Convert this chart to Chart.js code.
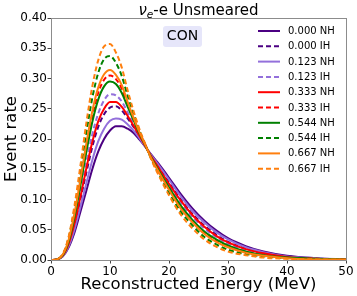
<!DOCTYPE html>
<html>
<head>
<meta charset="utf-8">
<script src="https://cdn.jsdelivr.net/npm/chart.js@4.4.0/dist/chart.umd.min.js"></script>
<style>
  html, body { margin: 0; padding: 0; background: #fff; }
  #wrap { width: 357px; height: 296px; }
</style>
</head>
<body>
<div id="wrap"><canvas id="chart" width="357" height="296"></canvas></div>
<script>
// reconstructed energy grid (MeV)
const energy = [0, 1, 2, 3, 4, 5, 6, 7, 8, 9, 10, 11, 12, 13, 14, 15, 16, 17, 18, 20, 22, 24, 26, 28, 30, 33, 36, 40, 45, 50];

// event rate, one array per curve
const nh000 = [0, 0.001, 0.006, 0.021, 0.046, 0.080, 0.115, 0.150, 0.179, 0.200, 0.214, 0.221, 0.221, 0.217, 0.210, 0.199, 0.187, 0.174, 0.162, 0.136, 0.109, 0.085, 0.065, 0.049, 0.036, 0.023, 0.014, 0.007, 0.003, 0.001];
const ih000 = [0, 0.001, 0.007, 0.026, 0.058, 0.101, 0.145, 0.187, 0.220, 0.241, 0.252, 0.254, 0.247, 0.234, 0.220, 0.204, 0.188, 0.172, 0.157, 0.128, 0.100, 0.076, 0.057, 0.042, 0.030, 0.019, 0.011, 0.006, 0.002, 0.001];
const nh123 = [0, 0.001, 0.006, 0.023, 0.051, 0.088, 0.127, 0.165, 0.196, 0.217, 0.230, 0.234, 0.232, 0.224, 0.214, 0.201, 0.187, 0.173, 0.160, 0.133, 0.105, 0.081, 0.062, 0.046, 0.034, 0.021, 0.013, 0.006, 0.003, 0.001];
const ih123 = [0, 0.001, 0.008, 0.029, 0.065, 0.112, 0.162, 0.208, 0.242, 0.264, 0.274, 0.272, 0.262, 0.244, 0.225, 0.206, 0.189, 0.171, 0.155, 0.124, 0.095, 0.071, 0.052, 0.038, 0.027, 0.017, 0.010, 0.005, 0.002, 0.001];
const nh333 = [0, 0.001, 0.007, 0.027, 0.061, 0.105, 0.152, 0.195, 0.229, 0.250, 0.261, 0.261, 0.253, 0.238, 0.222, 0.205, 0.188, 0.171, 0.156, 0.126, 0.098, 0.074, 0.055, 0.040, 0.029, 0.018, 0.011, 0.005, 0.002, 0.001];
const ih333 = [0, 0.001, 0.009, 0.033, 0.075, 0.129, 0.187, 0.238, 0.276, 0.298, 0.305, 0.299, 0.283, 0.257, 0.233, 0.210, 0.190, 0.169, 0.151, 0.117, 0.087, 0.064, 0.045, 0.032, 0.022, 0.013, 0.008, 0.004, 0.002, 0.001];
const nh544 = [0, 0.001, 0.008, 0.031, 0.072, 0.124, 0.179, 0.228, 0.265, 0.287, 0.295, 0.291, 0.276, 0.253, 0.231, 0.209, 0.189, 0.169, 0.152, 0.120, 0.090, 0.066, 0.047, 0.034, 0.024, 0.014, 0.008, 0.004, 0.002, 0.001];
const ih544 = [0, 0.001, 0.009, 0.037, 0.085, 0.146, 0.211, 0.268, 0.309, 0.332, 0.337, 0.326, 0.304, 0.271, 0.241, 0.214, 0.190, 0.167, 0.147, 0.111, 0.080, 0.057, 0.038, 0.026, 0.017, 0.010, 0.006, 0.003, 0.001, 0.000];
const nh667 = [0, 0.001, 0.009, 0.034, 0.078, 0.134, 0.193, 0.246, 0.285, 0.307, 0.314, 0.306, 0.289, 0.261, 0.235, 0.211, 0.190, 0.168, 0.150, 0.116, 0.085, 0.062, 0.043, 0.030, 0.021, 0.012, 0.007, 0.003, 0.001, 0.001];
const ih667 = [0, 0.001, 0.010, 0.039, 0.091, 0.157, 0.227, 0.287, 0.330, 0.353, 0.357, 0.343, 0.318, 0.280, 0.246, 0.216, 0.191, 0.166, 0.145, 0.107, 0.075, 0.052, 0.034, 0.022, 0.014, 0.008, 0.004, 0.002, 0.001, 0.000];

const seriesNames = ['0.000 NH', '0.000 IH', '0.123 NH', '0.123 IH', '0.333 NH', '0.333 IH', '0.544 NH', '0.544 IH', '0.667 NH', '0.667 IH'];
const seriesValues = [nh000, ih000, nh123, ih123, nh333, ih333, nh544, ih544, nh667, ih667];

const xTicks = [0, 10, 20, 30, 40, 50];
const yTicks = [0, 0.05, 0.10, 0.15, 0.20, 0.25, 0.30, 0.35, 0.40];

// styling
const seriesColors = ['#4b0082', '#4b0082', '#9370db', '#9370db', '#ff0000', '#ff0000', '#008000', '#008000', '#ff7f0e', '#ff7f0e'];
const FONT = 'DejaVu Sans';

const datasets = seriesValues.map((vals, i) => ({
    label: seriesNames[i],
    data: vals.map((v, j) => ({ x: energy[j], y: v })),
    borderColor: seriesColors[i],
    borderWidth: 2,
    borderDash: i % 2 === 1 ? [5, 3] : [],
    pointRadius: 0,
    fill: false,
    cubicInterpolationMode: 'monotone',
    order: seriesValues.length - i  // later series on top, like matplotlib
}));

const decorations = {
    id: 'decorations',
    afterDatasetsDraw(chart) {
        const { ctx, chartArea: ca } = chart;
        ctx.save();
        ctx.strokeStyle = '#8c8c8c';
        ctx.lineWidth = 1;
        ctx.strokeRect(ca.left + 0.5, ca.top + 0.5, ca.right - ca.left, ca.bottom - ca.top);
        ctx.restore();
    },
    afterDraw(chart) {
        const { ctx, chartArea: ca } = chart;
        const cx = (ca.left + ca.right) / 2;
        ctx.save();
        ctx.fillStyle = '#000';

        // title: nu_e-e Unsmeared
        const big = '15px "' + FONT + '"';
        const nuFont = 'italic 15px "' + FONT + '"';
        const subFont = 'italic 10.5px "' + FONT + '"';
        const rest = '-e Unsmeared';
        ctx.font = nuFont; const wNu = ctx.measureText('\u03bd').width;
        ctx.font = subFont; const wSub = ctx.measureText('e').width;
        ctx.font = big; const wRest = ctx.measureText(rest).width;
        let tx = cx - (wNu + wSub + wRest) / 2;
        const ty = 14.5;
        ctx.textBaseline = 'alphabetic';
        ctx.textAlign = 'left';
        ctx.font = nuFont; ctx.fillText('\u03bd', tx, ty); tx += wNu;
        ctx.font = subFont; ctx.fillText('e', tx, ty + 3); tx += wSub;
        ctx.font = big; ctx.fillText(rest, tx, ty);

        // axis titles
        ctx.font = '16.5px "' + FONT + '"';
        ctx.textAlign = 'center';
        ctx.fillText('Reconstructed Energy (MeV)', cx, 289);
        ctx.save();
        ctx.translate(16, (ca.top + ca.bottom) / 2);
        ctx.rotate(-Math.PI / 2);
        ctx.fillText('Event rate', 0, 0);
        ctx.restore();

        // CON box
        ctx.fillStyle = '#e6e6fa';
        ctx.beginPath();
        ctx.roundRect(163, 26, 39, 21, 3);
        ctx.fill();
        ctx.fillStyle = '#000';
        ctx.font = '14px "' + FONT + '"';
        ctx.textAlign = 'center';
        ctx.textBaseline = 'middle';
        ctx.fillText('CON', 182.5, 36.5);

        // legend
        ctx.font = '10px "' + FONT + '"';
        ctx.textAlign = 'left';
        ctx.textBaseline = 'middle';
        seriesNames.forEach((name, i) => {
            const y = 31 + i * 15.3;
            ctx.strokeStyle = seriesColors[i];
            ctx.lineWidth = 2;
            ctx.setLineDash(i % 2 === 1 ? [5, 3] : []);
            ctx.beginPath();
            ctx.moveTo(258, y);
            ctx.lineTo(280, y);
            ctx.stroke();
            ctx.setLineDash([]);
            ctx.fillStyle = '#000';
            ctx.fillText(name, 288, y + 0.5);
        });
        ctx.restore();
    }
};

new Chart(document.getElementById('chart').getContext('2d'), {
    type: 'line',
    data: { datasets: datasets },
    options: {
        responsive: false,
        animation: false,
        devicePixelRatio: 1,
        layout: { padding: { top: 18, right: 11, left: 0, bottom: 0 } },
        plugins: { legend: { display: false }, tooltip: { enabled: false } },
        scales: {
            x: {
                type: 'linear',
                min: 0,
                max: 50,
                afterBuildTicks: s => { s.ticks = xTicks.map(v => ({ value: v })); },
                afterFit: s => { s.height = 36; },
                ticks: { color: '#000', font: { family: FONT, size: 12 }, padding: 1, maxRotation: 0, autoSkip: false },
                grid: { drawOnChartArea: false, drawTicks: true, tickLength: 3.5, color: '#444' },
                border: { display: false }
            },
            y: {
                min: 0,
                max: 0.4,
                afterBuildTicks: s => { s.ticks = yTicks.map(v => ({ value: v })); },
                afterFit: s => { s.width = 51; },
                ticks: { color: '#000', font: { family: FONT, size: 12 }, padding: 0.5, autoSkip: false, callback: v => v.toFixed(2) },
                grid: { drawOnChartArea: false, drawTicks: true, tickLength: 3.5, color: '#444' },
                border: { display: false }
            }
        }
    },
    plugins: [decorations]
});
</script>
</body>
</html>
